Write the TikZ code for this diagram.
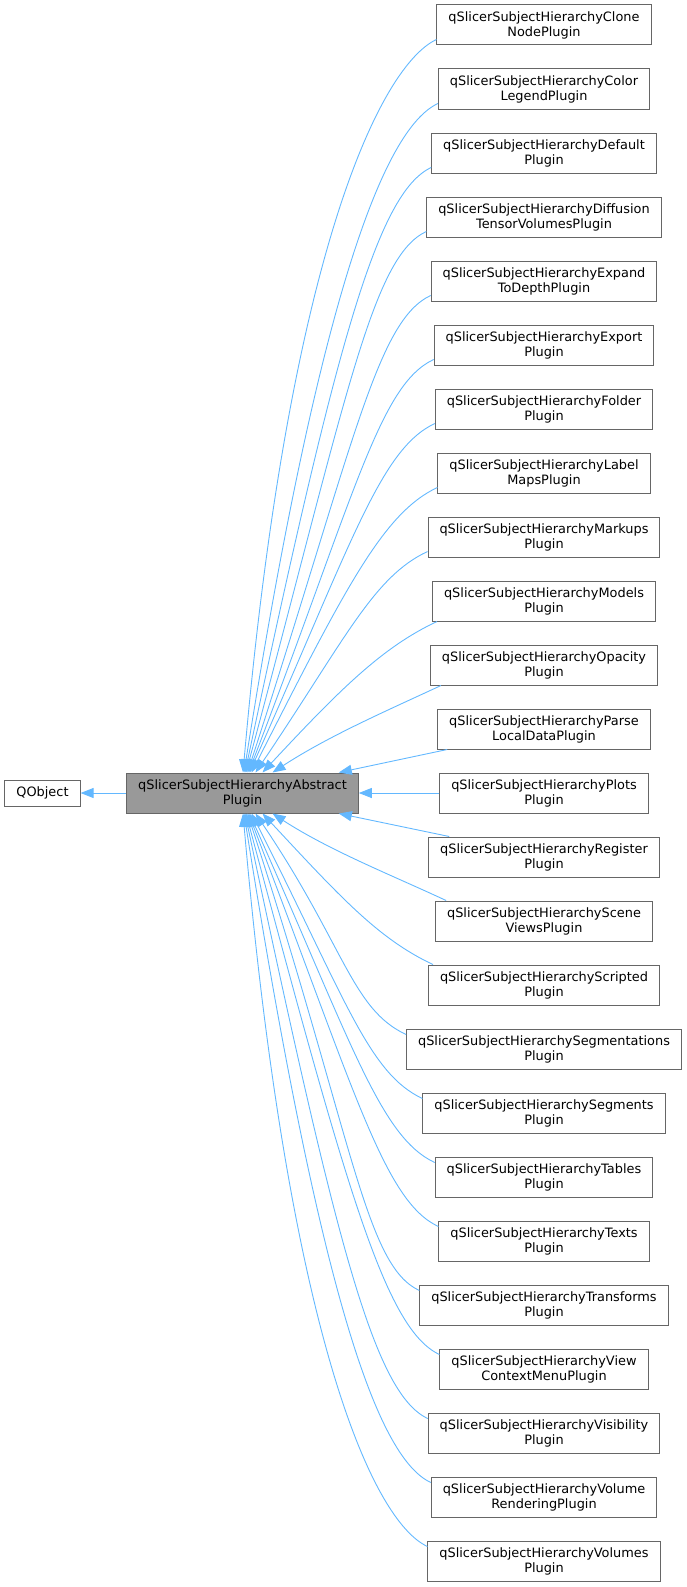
\documentclass[tikz,border=0pt]{standalone}
\usepackage{fontspec}
\setmainfont{DejaVu Sans}
\usetikzlibrary{arrows.meta}

\definecolor{edgeblue}{HTML}{63B8FF}
\definecolor{boxgray}{HTML}{666666}
\definecolor{absgray}{HTML}{999999}

\begin{document}
\begin{tikzpicture}[x=1pt, y=1pt,
    cls/.style={draw=boxgray, line width=1pt, align=center, inner xsep=11.5pt, inner ysep=2pt, minimum height=40pt, font=\fontsize{12.9}{15}\selectfont},
    isa/.style={color=edgeblue, line width=0.9pt, -{Triangle[length=13pt, width=10pt]}}]
    \useasboundingbox (0, 0) rectangle (687, -1587);

    \node[cls, minimum height=26pt] (q) at (42.5, -793) {QObject};
    \node[cls, fill=absgray] (a) at (242.5, -793) {qSlicerSubjectHierarchyAbstract\\Plugin};

    \node[cls] (p1) at (544, -25) {qSlicerSubjectHierarchyClone\\NodePlugin};
    \node[cls] (p2) at (544, -89) {qSlicerSubjectHierarchyColor\\LegendPlugin};
    \node[cls] (p3) at (544, -153) {qSlicerSubjectHierarchyDefault\\Plugin};
    \node[cls] (p4) at (544, -217) {qSlicerSubjectHierarchyDiffusion\\TensorVolumesPlugin};
    \node[cls] (p5) at (544, -281) {qSlicerSubjectHierarchyExpand\\ToDepthPlugin};
    \node[cls] (p6) at (544, -345) {qSlicerSubjectHierarchyExport\\Plugin};
    \node[cls] (p7) at (544, -409) {qSlicerSubjectHierarchyFolder\\Plugin};
    \node[cls] (p8) at (544, -473) {qSlicerSubjectHierarchyLabel\\MapsPlugin};
    \node[cls] (p9) at (544, -537) {qSlicerSubjectHierarchyMarkups\\Plugin};
    \node[cls] (p10) at (544, -601) {qSlicerSubjectHierarchyModels\\Plugin};
    \node[cls] (p11) at (544, -665) {qSlicerSubjectHierarchyOpacity\\Plugin};
    \node[cls] (p12) at (544, -729) {qSlicerSubjectHierarchyParse\\LocalDataPlugin};
    \node[cls] (p13) at (544, -793) {qSlicerSubjectHierarchyPlots\\Plugin};
    \node[cls] (p14) at (544, -857) {qSlicerSubjectHierarchyRegister\\Plugin};
    \node[cls] (p15) at (544, -921) {qSlicerSubjectHierarchyScene\\ViewsPlugin};
    \node[cls] (p16) at (544, -985) {qSlicerSubjectHierarchyScripted\\Plugin};
    \node[cls] (p17) at (544, -1049) {qSlicerSubjectHierarchySegmentations\\Plugin};
    \node[cls] (p18) at (544, -1113) {qSlicerSubjectHierarchySegments\\Plugin};
    \node[cls] (p19) at (544, -1177) {qSlicerSubjectHierarchyTables\\Plugin};
    \node[cls] (p20) at (544, -1241) {qSlicerSubjectHierarchyTexts\\Plugin};
    \node[cls] (p21) at (544, -1305) {qSlicerSubjectHierarchyTransforms\\Plugin};
    \node[cls] (p22) at (544, -1369) {qSlicerSubjectHierarchyView\\ContextMenuPlugin};
    \node[cls] (p23) at (544, -1433) {qSlicerSubjectHierarchyVisibility\\Plugin};
    \node[cls] (p24) at (544, -1497) {qSlicerSubjectHierarchyVolume\\RenderingPlugin};
    \node[cls] (p25) at (544, -1561) {qSlicerSubjectHierarchyVolumes\\Plugin};

    \path
    (a) edge[isa] (q)
    % upper plugins
    ([yshift=6pt]p1.south west) edge[isa, out=205, in=85, out distance=60pt, in distance=528pt] ([xshift=0.5pt]a.north)
    ([yshift=6pt]p2.south west) edge[isa, out=205, in=81, out distance=60pt, in distance=482pt] ([xshift=1.5pt]a.north)
    ([yshift=6pt]p3.south west) edge[isa, out=205, in=78, out distance=60pt, in distance=436pt] ([xshift=2.5pt]a.north)
    ([yshift=6pt]p4.south west) edge[isa, out=205, in=75, out distance=60pt, in distance=390pt] ([xshift=3.5pt]a.north)
    ([yshift=6pt]p5.south west) edge[isa, out=205, in=72, out distance=60pt, in distance=344pt] ([xshift=5pt]a.north)
    ([yshift=6pt]p6.south west) edge[isa, out=205, in=69, out distance=60pt, in distance=298pt] ([xshift=6pt]a.north)
    ([yshift=6pt]p7.south west) edge[isa, out=205, in=66, out distance=60pt, in distance=252pt] ([xshift=7pt]a.north)
    ([yshift=6pt]p8.south west) edge[isa, out=205, in=63, out distance=60pt, in distance=206pt] ([xshift=9pt]a.north)
    ([yshift=6pt]p9.south west) edge[isa, out=205, in=56, out distance=60pt, in distance=160pt] ([xshift=13pt]a.north)
    ([xshift=5pt]p10.south west) edge[isa, out=205, in=47, out distance=60pt, in distance=114pt] ([xshift=20pt]a.north)
    ([xshift=11pt]p11.south west) edge[isa, out=205, in=33, out distance=60pt, in distance=68pt] ([xshift=30pt]a.north)
    ([xshift=10pt]p12.south west) edge[isa] ([xshift=-20pt]a.north east)
    (p13) edge[isa] (a)
    % lower plugins
    ([xshift=21pt]p14.north west) edge[isa] ([xshift=-20pt]a.south east)
    ([xshift=11pt]p15.north west) edge[isa, out=155, in=-33, out distance=60pt, in distance=68pt] ([xshift=30pt]a.south)
    ([xshift=5pt]p16.north west) edge[isa, out=155, in=-47, out distance=60pt, in distance=114pt] ([xshift=20pt]a.south)
    ([yshift=-6pt]p17.north west) edge[isa, out=155, in=-56, out distance=60pt, in distance=160pt] ([xshift=13pt]a.south)
    ([yshift=-6pt]p18.north west) edge[isa, out=155, in=-63, out distance=60pt, in distance=206pt] ([xshift=9pt]a.south)
    ([yshift=-6pt]p19.north west) edge[isa, out=155, in=-66, out distance=60pt, in distance=252pt] ([xshift=7pt]a.south)
    ([yshift=-6pt]p20.north west) edge[isa, out=155, in=-69, out distance=60pt, in distance=298pt] ([xshift=6pt]a.south)
    ([yshift=-6pt]p21.north west) edge[isa, out=155, in=-72, out distance=60pt, in distance=344pt] ([xshift=5pt]a.south)
    ([yshift=-6pt]p22.north west) edge[isa, out=155, in=-75, out distance=60pt, in distance=390pt] ([xshift=3.5pt]a.south)
    ([yshift=-6pt]p23.north west) edge[isa, out=155, in=-78, out distance=60pt, in distance=436pt] ([xshift=2.5pt]a.south)
    ([yshift=-6pt]p24.north west) edge[isa, out=155, in=-81, out distance=60pt, in distance=482pt] ([xshift=1.5pt]a.south)
    ([yshift=-6pt]p25.north west) edge[isa, out=155, in=-85, out distance=60pt, in distance=528pt] ([xshift=0.5pt]a.south);
\end{tikzpicture}
\end{document}
